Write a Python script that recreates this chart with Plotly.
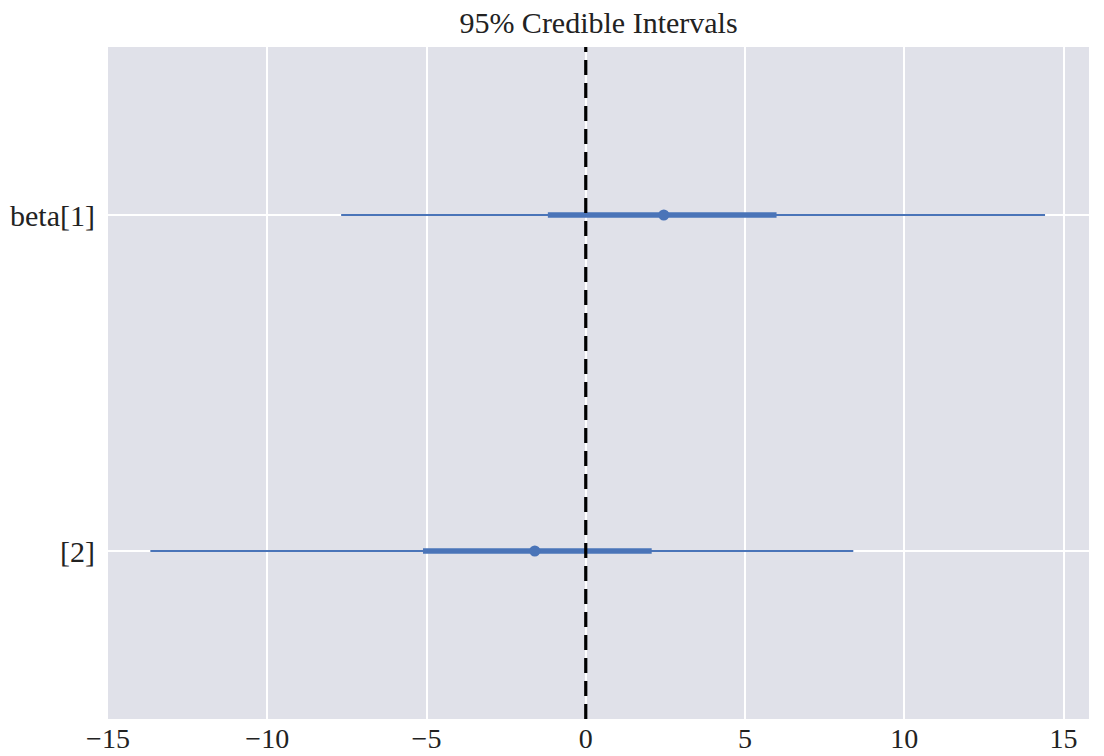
import plotly.graph_objects as go

# Posterior summaries for each coefficient
params = ["beta[1]", "beta[2]"]
tick_labels = ["beta[1]", "[2]"]
lo_95 = [-7.68, -13.67]
hi_95 = [14.42, 8.40]
lo_50 = [-1.19, -5.11]
hi_50 = [5.99, 2.07]
point_est = [2.45, -1.60]
ref_value = 0.0

blue = "#4A74B8"
font_family = "Liberation Serif, Times New Roman, serif"

fig = go.Figure()

for i, p in enumerate(params):
    # 95% interval (thin)
    fig.add_trace(go.Scatter(
        x=[lo_95[i], hi_95[i]], y=[p, p], mode="lines",
        line=dict(color=blue, width=2.2), hoverinfo="skip", showlegend=False,
    ))
    # 50% interval (thick)
    fig.add_trace(go.Scatter(
        x=[lo_50[i], hi_50[i]], y=[p, p], mode="lines",
        line=dict(color=blue, width=5.5), hoverinfo="skip", showlegend=False,
    ))
    # point estimate
    fig.add_trace(go.Scatter(
        x=[point_est[i]], y=[p], mode="markers",
        marker=dict(color=blue, size=11), showlegend=False,
    ))

# reference line at zero
fig.add_shape(
    type="line", xref="x", yref="paper", x0=ref_value, x1=ref_value, y0=0, y1=1,
    line=dict(color="black", width=3.2, dash="15px,8px"), layer="above",
)

fig.update_layout(
    width=1104, height=756,
    margin=dict(l=108, r=15, t=47, b=37),
    paper_bgcolor="white",
    plot_bgcolor="#E0E1E9",
    font=dict(family=font_family, size=30, color="#222222"),
    title=dict(text="95% Credible Intervals", x=0.5, xanchor="center",
               xref="paper", y=1, yref="container", yanchor="top",
               pad=dict(t=12), font=dict(size=30, color="#222222")),
    xaxis=dict(
        range=[-15.0, 15.8], tickvals=[-15, -10, -5, 0, 5, 10, 15],
        ticktext=["\u221215", "\u221210", "\u22125", "0", "5", "10", "15"],
        tickfont=dict(size=28),
        showgrid=True, gridcolor="white", gridwidth=2, zeroline=False,
        ticks="", showline=False, automargin=False, ticklabelstandoff=0,
    ),
    yaxis=dict(
        type="category", categoryarray=params, range=[1.5, -0.5],
        tickvals=params, ticktext=tick_labels,
        showgrid=True, gridcolor="white", gridwidth=2, zeroline=False,
        ticks="", showline=False, automargin=False, ticklabelstandoff=12,
    ),
)

fig.write_html("out.html")
